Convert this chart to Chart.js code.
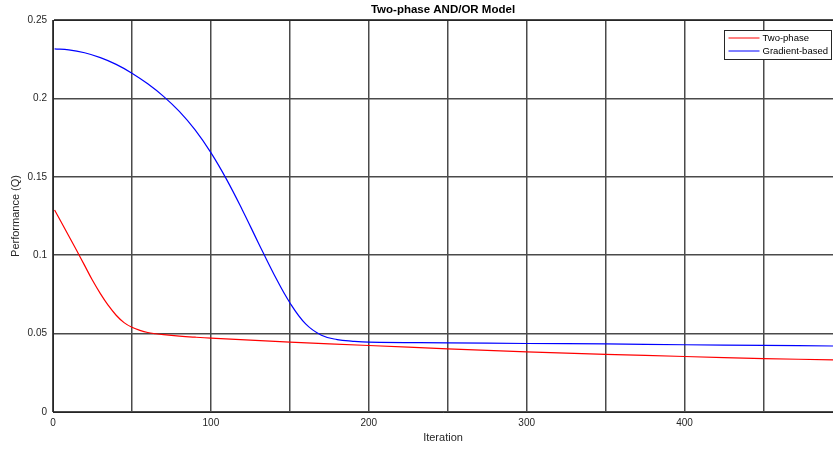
<!DOCTYPE html>
<html>
<head>
<meta charset="utf-8">
<script src="https://cdn.jsdelivr.net/npm/chart.js@4/dist/chart.umd.min.js"></script>
<style>
  html, body { margin: 0; padding: 0; background: #fff; }
  #wrap { width: 833px; height: 449px; }
</style>
</head>
<body>
<div id="wrap"><canvas id="chart" width="833" height="449"></canvas></div>
<script>
const chartTitle = 'Two-phase AND/OR Model';
const seriesNames = ['Two-phase', 'Gradient-based'];
const seriesColors = ['#ff0000', '#0000ff'];

// iterations + performance values, per series
const twoPhaseIter = [1, 5, 10, 15, 20, 25, 30, 35, 40, 45, 50, 55, 60, 65, 70, 80, 90, 100, 150, 200, 250, 300, 350, 400, 450, 494];
const twoPhaseQ = [0.1288, 0.1215, 0.1122, 0.1030, 0.0935, 0.0840, 0.0755, 0.0680, 0.0617, 0.0570, 0.0540, 0.0521, 0.0507, 0.0499, 0.0493, 0.0484, 0.0477, 0.0471, 0.0446, 0.0424, 0.0403, 0.0384, 0.0368, 0.0354, 0.0341, 0.0332];

const gradIter = [1, 10, 20, 30, 40, 50, 60, 70, 80, 90, 100, 110, 120, 130, 140, 150, 160, 170, 180, 190, 200, 250, 300, 350, 400, 450, 494];
const gradQ = [0.2316, 0.2310, 0.2291, 0.2260, 0.2217, 0.2161, 0.2093, 0.2013, 0.1917, 0.1799, 0.1654, 0.1482, 0.1287, 0.1080, 0.0877, 0.0697, 0.0562, 0.0490, 0.0462, 0.0451, 0.0445, 0.0441, 0.0437, 0.0434, 0.0429, 0.0425, 0.0421];

const xMax = 494;
const yTicks = [0, 0.05, 0.1, 0.15, 0.2, 0.25];

const txt = '#262626';
const font = "'Liberation Sans', Arial, sans-serif";

function pts(xs, ys) {
    return xs.map((x, i) => ({ x: x, y: ys[i] }));
}

// title, top frame line and the boxed legend, drawn the matlab way
const decor = {
    id: 'decor',
    afterDraw(chart) {
        const { ctx, chartArea: a } = chart;
        ctx.save();
        ctx.strokeStyle = txt;
        ctx.lineWidth = 1;
        ctx.beginPath();
        ctx.moveTo(a.left, a.top + 0.5);
        ctx.lineTo(a.right, a.top + 0.5);
        ctx.stroke();

        ctx.fillStyle = '#000';
        ctx.font = 'bold 11.5px ' + font;
        ctx.textAlign = 'center';
        ctx.textBaseline = 'middle';
        ctx.fillText(chartTitle, (a.left + a.right) / 2, 10);

        // legend box
        const bx = 724.5, by = 30.5, bw = 107, bh = 29;
        ctx.fillStyle = '#fff';
        ctx.fillRect(bx, by, bw, bh);
        ctx.strokeStyle = txt;
        ctx.strokeRect(bx, by, bw, bh);
        ctx.font = '9.5px ' + font;
        ctx.textAlign = 'left';
        seriesNames.forEach((name, i) => {
            const ly = by + 7.5 + i * 13;
            ctx.strokeStyle = seriesColors[i];
            ctx.beginPath();
            ctx.moveTo(bx + 4, ly);
            ctx.lineTo(bx + 35, ly);
            ctx.stroke();
            ctx.fillStyle = '#000';
            ctx.fillText(name, bx + 38, ly + 0.5);
        });
        ctx.restore();
    }
};

new Chart(document.getElementById('chart'), {
    type: 'line',
    data: {
        datasets: [
            {
                label: seriesNames[0],
                data: pts(twoPhaseIter, twoPhaseQ),
                borderColor: seriesColors[0],
                borderWidth: 1.2,
                pointRadius: 0,
                tension: 0.4
            },
            {
                label: seriesNames[1],
                data: pts(gradIter, gradQ),
                borderColor: seriesColors[1],
                borderWidth: 1.2,
                pointRadius: 0,
                tension: 0.4
            }
        ]
    },
    options: {
        responsive: false,
        animation: false,
        layout: { padding: { top: 20, right: 0, left: 0, bottom: 0 } },
        plugins: { legend: { display: false }, tooltip: { enabled: false } },
        scales: {
            x: {
                type: 'linear',
                min: 0,
                max: xMax,
                afterBuildTicks: s => { s.ticks = s.ticks.filter(t => t.value % 50 === 0); },
                afterFit: s => { s.height = 37; },
                ticks: {
                    stepSize: 50,
                    autoSkip: false,
                    maxRotation: 0,
                    padding: 5,
                    color: txt,
                    font: { family: font, size: 10 },
                    callback: v => (v % 100 === 0 ? v : '')
                },
                grid: { color: '#4a4a4a', lineWidth: 1.5, drawTicks: false },
                border: { color: txt, width: 1 },
                title: {
                    display: true,
                    text: 'Iteration',
                    color: txt,
                    font: { family: font, size: 11 },
                    padding: { top: 0, bottom: 4 }
                }
            },
            y: {
                min: 0,
                max: 0.25,
                afterBuildTicks: s => { s.ticks = yTicks.map(v => ({ value: v })); },
                afterFit: s => { s.width = 53; },
                ticks: {
                    padding: 6,
                    color: txt,
                    font: { family: font, size: 10 },
                    callback: v => String(parseFloat(v.toFixed(2)))
                },
                grid: { color: '#4a4a4a', lineWidth: 1.5, drawTicks: false },
                border: { color: txt, width: 1 },
                title: {
                    display: true,
                    text: 'Performance (Q)',
                    color: txt,
                    font: { family: font, size: 11 },
                    padding: { top: 9, bottom: 0 }
                }
            }
        }
    },
    plugins: [decor]
});
</script>
</body>
</html>
